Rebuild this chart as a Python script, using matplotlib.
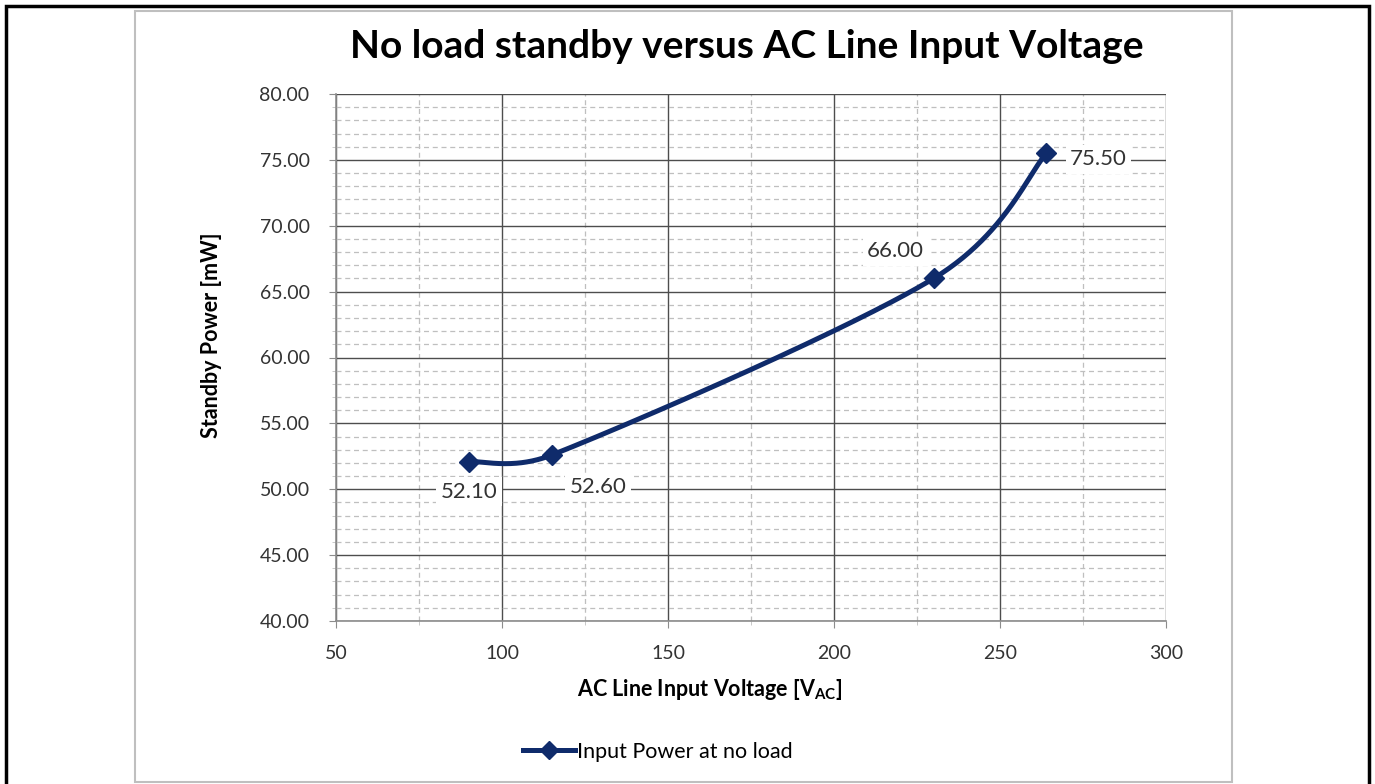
import numpy as np
import matplotlib
matplotlib.use("Agg")
import matplotlib.pyplot as plt
from matplotlib.patches import Rectangle
from matplotlib.lines import Line2D
from matplotlib.ticker import MultipleLocator, FormatStrFormatter

plt.rcParams['font.family'] = ['Lato', 'DejaVu Sans']

# data
voltage = [90, 115, 230, 264]
power = [52.10, 52.60, 66.00, 75.50]
labels = ["52.10", "52.60", "66.00", "75.50"]
label_offsets = [(0, -30), (46, -32), (-38, 27), (52, -6)]

navy = "#0F2B6B"

# axes box in pixels (used for the smoothing, which works in screen space)
W, H = 1375, 784
ax_px = (336, 621, 830, 527)  # left, bottom(y from top), width, height
xlim = (50, 300)
ylim = (40, 80)


def excel_smooth(x, y, sx, sy, n=80):
    # Excel style smoothed line: bezier with 1/6 control points, capped at half segment length
    P = np.column_stack([np.asarray(x, float) * sx, np.asarray(y, float) * sy])
    out = []
    m = len(P)
    for i in range(m - 1):
        p0 = P[max(i - 1, 0)]
        p1 = P[i]
        p2 = P[i + 1]
        p3 = P[min(i + 2, m - 1)]
        d12 = np.hypot(*(p2 - p1))
        d02 = np.hypot(*(p2 - p0))
        d13 = np.hypot(*(p3 - p1))
        f0 = min(1 / 6, d12 / (2 * d02)) if d02 > 0 else 1 / 6
        f1 = min(1 / 6, d12 / (2 * d13)) if d13 > 0 else 1 / 6
        c1 = p1 + (p2 - p0) * f0
        c2 = p2 - (p3 - p1) * f1
        t = np.linspace(0, 1, n)[:, None]
        b = ((1 - t) ** 3) * p1 + 3 * ((1 - t) ** 2) * t * c1 + 3 * (1 - t) * t ** 2 * c2 + t ** 3 * p2
        out.append(b)
    out = np.vstack(out)
    return out[:, 0] / sx, out[:, 1] / sy


fig = plt.figure(figsize=(13.75, 7.84), dpi=100)

# outer frame and chart box
fig.patches.append(Rectangle((6 / W, -0.05), 1363 / W, 1 - 6 / H + 0.05,
                             transform=fig.transFigure, fill=False, lw=2.5, ec="black"))
fig.patches.append(Rectangle((135 / W, 1 - 782 / H), 1097 / W, 771 / H,
                             transform=fig.transFigure, fill=False, lw=1.5, ec="#BFBFBF"))

ax = fig.add_axes([ax_px[0] / W, 1 - ax_px[1] / H, ax_px[2] / W, ax_px[3] / H])
ax.set_xlim(*xlim)
ax.set_ylim(*ylim)
ax.xaxis.set_major_locator(MultipleLocator(50))
ax.xaxis.set_minor_locator(MultipleLocator(25))
ax.yaxis.set_major_locator(MultipleLocator(5))
ax.yaxis.set_minor_locator(MultipleLocator(1))
ax.yaxis.set_major_formatter(FormatStrFormatter("%.2f"))

ax.grid(True, which="major", color="#4D4D4D", lw=1.0)
ax.grid(True, which="minor", color="#BFBFBF", lw=0.9, ls=(0, (4, 3)))
ax.set_axisbelow(True)

for side in ["top", "right"]:
    ax.spines[side].set_visible(False)
for side in ["left", "bottom"]:
    ax.spines[side].set_color("#8C8C8C")
    ax.spines[side].set_linewidth(1.2)

ax.tick_params(which="major", direction="out", length=5, color="#8C8C8C", labelsize=14,
               labelcolor="#333333")
ax.tick_params(axis="y", which="major", pad=14)
ax.tick_params(axis="x", which="major", pad=12)
ax.tick_params(which="minor", direction="out", length=3, color="#BFBFBF")

sx = ax_px[2] / (xlim[1] - xlim[0])
sy = ax_px[3] / (ylim[1] - ylim[0])
xs, ys = excel_smooth(voltage, power, sx, sy)
ax.plot(xs, ys, color=navy, lw=3.6, solid_capstyle="round", zorder=3)
ax.plot(voltage, power, ls="none", marker="D", ms=10, color=navy, zorder=4)

for vx, py, txt, off in zip(voltage, power, labels, label_offsets):
    ax.annotate(txt, (vx, py), xytext=off, textcoords="offset pixels",
                ha="center", va="center", fontsize=16, color="#333333",
                bbox=dict(boxstyle="square,pad=0.2", fc="white", ec="none"), zorder=5)

fig.text(747 / W, 1 - 46 / H, "No load standby versus AC Line Input Voltage",
         ha="center", va="center", fontsize=28, fontweight="bold", color="black")
fig.text(710 / W, 1 - 689 / H, "AC Line Input Voltage [V$_{\\mathregular{AC}}$]",
         ha="center", va="center", fontsize=15.5, fontweight="bold")
fig.text(212 / W, 1 - 335 / H, "Standby Power [mW]", rotation=90,
         ha="center", va="center", fontsize=15.5, fontweight="bold")

handle = Line2D([], [], color=navy, lw=3.6, marker="D", ms=9)
fig.legend([handle], ["Input Power at no load"], loc="center", bbox_to_anchor=(658 / W, 1 - 752 / H),
           frameon=False, fontsize=15.5, handlelength=2.4, handletextpad=0.1)

fig.savefig("out.png", dpi=100)
